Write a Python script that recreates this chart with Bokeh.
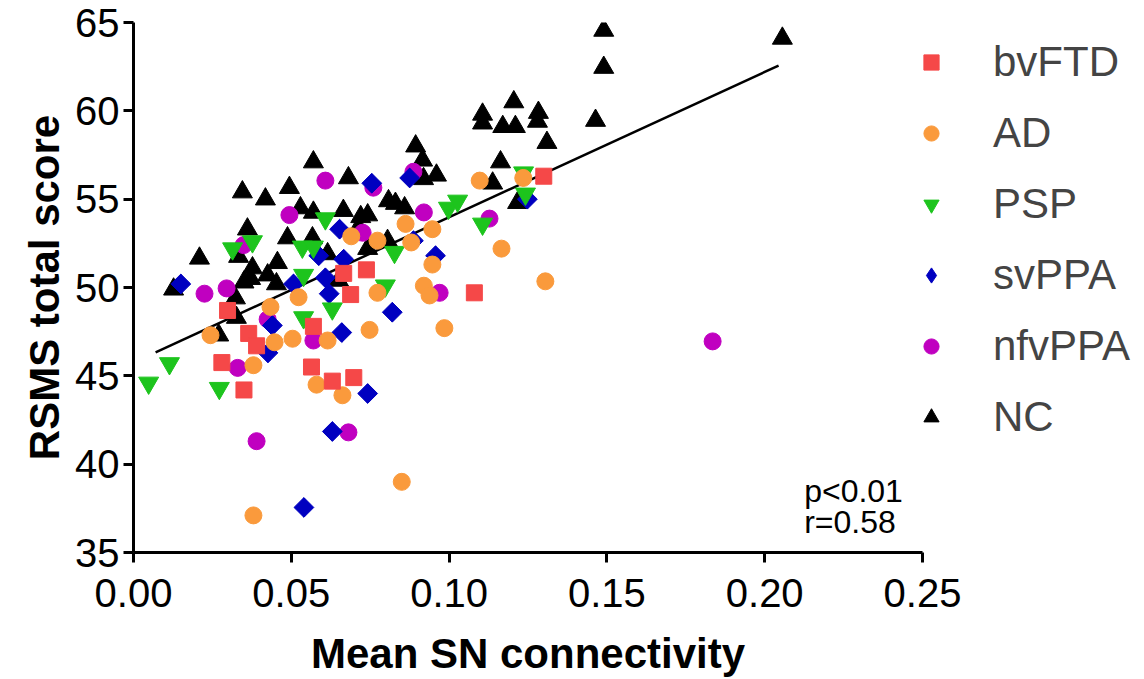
import numpy as np
from bokeh.plotting import figure
from bokeh.models import Range1d, FixedTicker, NumeralTickFormatter, Legend, LegendItem, Label
from bokeh.embed import file_html
from bokeh.resources import INLINE

groups = ["bvFTD", "AD", "PSP", "svPPA", "nfvPPA", "NC"]

bvftd_x = [0.0298, 0.0365, 0.039, 0.028, 0.035, 0.057, 0.0564, 0.063, 0.0698, 0.0666, 0.0738, 0.0688, 0.108, 0.130]
bvftd_y = [48.7, 47.4, 46.7, 45.75, 44.2, 47.8, 45.5, 44.7, 44.9, 50.8, 51.0, 49.6, 49.7, 56.3]

ad_x = [0.0244, 0.0434, 0.0447, 0.0504, 0.0523, 0.038, 0.0615, 0.058, 0.0662, 0.0748, 0.0773, 0.092, 0.0938,
        0.0985, 0.069, 0.0773, 0.0862, 0.088, 0.0947, 0.0947, 0.1097, 0.1235, 0.1166, 0.1305, 0.038, 0.085]
ad_y = [47.3, 48.9, 46.9, 47.1, 49.45, 45.6, 47.0, 44.5, 43.9, 47.6, 49.7, 50.1, 49.55,
        47.7, 52.9, 52.65, 53.6, 52.55, 53.3, 51.3, 56.05, 56.2, 52.2, 50.35, 37.1, 39.0]

psp_x = [0.0048, 0.0114, 0.0272, 0.0314, 0.0377, 0.0535, 0.057, 0.0539, 0.0608, 0.0539, 0.063, 0.0827,
         0.0798, 0.0998, 0.1027, 0.1106, 0.1242, 0.1236]
psp_y = [44.6, 45.7, 44.3, 52.2, 52.6, 52.3, 52.3, 50.7, 53.9, 48.3, 48.8, 52.0,
         50.1, 54.5, 54.9, 53.6, 55.3, 56.5]

svppa_x = [0.015, 0.044, 0.0426, 0.0755, 0.0875, 0.0653, 0.0587, 0.0666, 0.0608, 0.062, 0.0887, 0.0957,
           0.0507, 0.082, 0.066, 0.0742, 0.063, 0.1248, 0.054]
svppa_y = [50.2, 47.85, 46.3, 55.9, 56.2, 53.3, 51.8, 51.6, 50.55, 49.65, 52.65, 51.8,
           50.2, 48.6, 47.45, 44.0, 41.85, 55.0, 37.55]

nfvppa_x = [0.0225, 0.0295, 0.0494, 0.0608, 0.0349, 0.033, 0.039, 0.0425, 0.057, 0.076, 0.0887, 0.092,
            0.0726, 0.097, 0.0681, 0.1128, 0.1835]
nfvppa_y = [49.65, 49.95, 54.1, 56.05, 52.4, 45.45, 41.3, 48.2, 47.0, 55.65, 56.55, 54.25,
            53.1, 49.7, 41.8, 53.9, 46.95]

nc_x = [0.0127, 0.0209, 0.027, 0.0323, 0.0326, 0.0333, 0.0345, 0.0361, 0.0371, 0.0377, 0.0418, 0.0425,
        0.0453, 0.0456, 0.0488, 0.0494, 0.0529, 0.0567, 0.057, 0.057, 0.065, 0.0665, 0.0681, 0.0713,
        0.072, 0.0742, 0.0742, 0.0805, 0.0808, 0.083, 0.0859, 0.0894, 0.0916, 0.0919, 0.096, 0.1106,
        0.1106, 0.1138, 0.1163, 0.117, 0.1205, 0.121, 0.1217, 0.1283, 0.128, 0.131, 0.1464, 0.149,
        0.149, 0.2056, 0.0615, 0.035]
nc_y = [49.9, 51.65, 47.3, 49.4, 48.3, 51.75, 55.4, 53.3, 50.5, 51.1, 55.0, 50.7,
        50.2, 51.4, 52.8, 55.65, 54.5, 52.8, 54.25, 57.1, 50.4, 54.35, 56.2, 53.4,
        54.0, 54.1, 52.2, 52.65, 54.9, 54.75, 54.5, 58.0, 57.2, 56.15, 56.35, 59.8,
        59.3, 55.9, 57.1, 59.1, 60.5, 59.1, 54.8, 59.9, 59.4, 58.2, 59.45, 62.45,
        64.55, 64.1, 51.9, 50.3]

fit_x = [0.007, 0.2044]
fit_y = [46.33, 62.56]

x_ticks = [0.0, 0.05, 0.10, 0.15, 0.20, 0.25]
y_ticks = [35, 40, 45, 50, 55, 60, 65]

FONT = "Liberation Sans"

p = figure(frame_width=789, frame_height=530, output_backend="svg", toolbar_location=None,
           x_range=Range1d(0, 0.25), y_range=Range1d(35, 65),
           min_border_left=133, min_border_right=222, min_border_top=22, min_border_bottom=127)
p.grid.visible = False
p.outline_line_color = None

for ax in (p.xaxis[0], p.yaxis[0]):
    ax.axis_line_width = 3
    ax.major_tick_line_width = 3
    ax.major_tick_out = 10
    ax.major_tick_in = 0
    ax.minor_tick_line_color = None
    ax.major_label_text_font = FONT
    ax.major_label_text_font_size = "40px"
    ax.major_label_text_color = "black"
    ax.axis_label_text_font = FONT
    ax.axis_label_text_font_size = "42px"
    ax.axis_label_text_font_style = "bold"
    ax.axis_label_text_color = "black"

p.xaxis.ticker = FixedTicker(ticks=x_ticks)
p.xaxis.formatter = NumeralTickFormatter(format="0.00")
p.yaxis.ticker = FixedTicker(ticks=y_ticks)
p.xaxis.axis_label = "Mean SN connectivity"
p.yaxis.axis_label = "RSMS total score"
p.xaxis.major_label_standoff = 16
p.xaxis.axis_label_standoff = 20
p.yaxis.major_label_standoff = 4
p.yaxis.axis_label_standoff = 4

styles = {
    "NC": (nc_x, nc_y, "triangle", 20, "#000000", 0),
    "nfvPPA": (nfvppa_x, nfvppa_y, "circle", 17, "#C000C0", 0),
    "svPPA": (svppa_x, svppa_y, "square", 14, "#0000C0", np.pi / 4),
    "PSP": (psp_x, psp_y, "inverted_triangle", 20, "#1DC41D", 0),
    "AD": (ad_x, ad_y, "circle", 17, "#FA9A3C", 0),
    "bvFTD": (bvftd_x, bvftd_y, "square", 16, "#F54848", 0),
}

p.line(fit_x, fit_y, line_color="black", line_width=2.5)

renderers = {}
sv_legend = None
for g in ["NC", "nfvPPA", "svPPA", "PSP", "AD", "bvFTD"]:
    xs, ys, mk, sz, col, ang = styles[g]
    if g == "svPPA":
        # diamond glyph used for the legend, hidden underneath the rotated squares
        sv_legend = p.scatter(xs, ys, marker="diamond", size=19, fill_color=col, line_color=col)
    renderers[g] = p.scatter(xs, ys, marker=mk, size=sz, fill_color=col, line_color=col, angle=ang)

items = []
for g in groups:
    r = sv_legend if g == "svPPA" else renderers[g]
    items.append(LegendItem(label=g, renderers=[r]))
legend = Legend(items=items, location=(-10, 111), glyph_width=38, glyph_height=38, label_standoff=43,
                spacing=23, padding=0, margin=0, border_line_color=None, background_fill_alpha=0,
                label_text_font=FONT, label_text_font_size="42px", label_height=46)
p.add_layout(legend, "right")

p.add_layout(Label(x=0.2125, y=38.5, text="p<0.01", text_font=FONT, text_font_size="32px",
                   text_baseline="middle", text_color="black"))
p.add_layout(Label(x=0.2125, y=36.7, text="r=0.58", text_font=FONT, text_font_size="32px",
                   text_baseline="middle", text_color="black"))

open("out.html", "w").write(file_html(p, INLINE))
